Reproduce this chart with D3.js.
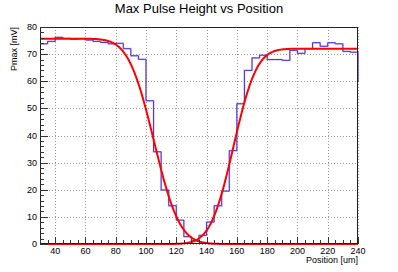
<!DOCTYPE html>
<html><head><meta charset="utf-8">
<script src="https://cdn.jsdelivr.net/npm/d3@7"></script>
<style>
html,body{margin:0;padding:0;background:#fff;}
svg{display:block;font-family:"Liberation Sans",Arial,sans-serif;}
</style></head>
<body>
<svg id="c" width="398" height="272"></svg>
<script>
// ---- data ----
const binLow = [25,30,35,40,45,50,55,60,65,70,75,80,85,90,95,100,105,110,115,120,125,130,135,140,145,150,155,160,165,170,175,180,185,190,195,200,205,210,215,220,225,230,235,240];
const binVal = [68.5,73.8,74.7,76.2,75.8,75.5,75.7,75.2,74.7,74.3,73.8,74.0,72.0,69.4,68.1,52.8,34.0,19.9,14.1,8.8,2.7,1.2,3.2,8.1,14.1,19.5,34.4,51.7,64.0,68.6,69.6,68.0,68.0,67.7,71.4,70.3,72.0,74.2,72.9,74.2,73.8,71.0,70.7,60.0];
const binWidth = 5;
const xTicks = [40,60,80,100,120,140,160,180,200,220,240];
const yTicks = [0,10,20,30,40,50,60,70,80];
// fit parameters (error-function edges)
const fitLeft  = {amp:75.7, mu:105.3, sigma:18.8};
const fitRight = {amp:72.0, mu:157.8, sigma:17.0};
const title = "Max Pulse Height vs Position";
const xTitle = "Position [um]";
const yTitle = "Pmax [mV]";

// ---- layout ----
const L=40, R=358, T=27, B=244;
const svg = d3.select("#c");
const x = d3.scaleLinear().domain([30,240]).range([L,R]);
const y = d3.scaleLinear().domain([0,80]).range([B,T]);

svg.append("defs").append("clipPath").attr("id","clip")
  .append("rect").attr("x",L).attr("y",T).attr("width",R-L).attr("height",B-T+2);
svg.append("defs").append("clipPath").attr("id","clipH")
  .append("rect").attr("x",L).attr("y",T).attr("width",R-L+1).attr("height",B-T);

// grid
const grid = svg.append("g").attr("stroke","#999").attr("stroke-width",1).attr("stroke-dasharray","1,2");
xTicks.forEach(t=>grid.append("line").attr("x1",Math.round(x(t))+0.5).attr("x2",Math.round(x(t))+0.5).attr("y1",T).attr("y2",B));
yTicks.forEach(t=>grid.append("line").attr("x1",L).attr("x2",R).attr("y1",Math.round(y(t))+0.5).attr("y2",Math.round(y(t))+0.5));

// histogram step line
const pts = [];
binLow.forEach((b,i)=>{ pts.push([b,binVal[i]]); pts.push([b+binWidth,binVal[i]]); });
const step = d3.line().x(d=>x(d[0])).y(d=>y(d[1]));
const hg = svg.append("g").attr("clip-path","url(#clipH)");
hg.append("path").attr("d",step(pts)).attr("fill","none").attr("stroke","#a58af0").attr("stroke-width",1.8).attr("opacity",0.5);
hg.append("path").attr("d",step(pts)).attr("fill","none").attr("stroke","#4a2fd6").attr("stroke-width",1);

// fit curves
function erf(z){
  const s = z<0?-1:1; z=Math.abs(z);
  const t=1/(1+0.3275911*z);
  const yv=1-(((((1.061405429*t-1.453152027)*t)+1.421413741)*t-0.284496736)*t+0.254829592)*t*Math.exp(-z*z);
  return s*yv;
}
const xs = d3.range(30,240.01,0.5);
const leftCurve = xs.map(v=>[v, fitLeft.amp/2*(1-erf((v-fitLeft.mu)/fitLeft.sigma))]);
const rightCurve = xs.map(v=>[v, fitRight.amp/2*(1+erf((v-fitRight.mu)/fitRight.sigma))]);
const cl = d3.line().x(d=>x(d[0])).y(d=>y(d[1])).curve(d3.curveLinear);
const cg = svg.append("g").attr("clip-path","url(#clip)");
[leftCurve,rightCurve].forEach(c=>cg.append("path").attr("d",cl(c)).attr("fill","none").attr("stroke","#ff0000").attr("stroke-width",2));

// frame
svg.append("rect").attr("x",L+0.5).attr("y",T+0.5).attr("width",R-L-1).attr("height",B-T-1)
  .attr("fill","none").attr("stroke","#222").attr("stroke-width",1);

// axes ticks (inward)
const ax = svg.append("g").attr("stroke","#333").attr("stroke-width",1);
d3.range(30,240.01,5).forEach(v=>{
  const major = v%20===0;
  ax.append("line").attr("x1",Math.round(x(v))+0.5).attr("x2",Math.round(x(v))+0.5)
    .attr("y1",B).attr("y2",B-(major?7:4));
});
d3.range(0,80.01,2).forEach(v=>{
  const major = v%10===0;
  ax.append("line").attr("y1",Math.round(y(v))+0.5).attr("y2",Math.round(y(v))+0.5)
    .attr("x1",L).attr("x2",L+(major?8:4));
});

// tick labels
const tl = svg.append("g").attr("font-size","9px").attr("fill","#000");
xTicks.forEach(t=>tl.append("text").attr("x",x(t)).attr("y",B+9.5).attr("text-anchor","middle").text(t));
yTicks.forEach(t=>tl.append("text").attr("x",L-3).attr("y",y(t)+3).attr("text-anchor","end").text(t));

// titles
svg.append("text").attr("x",199).attr("y",13).attr("text-anchor","middle").attr("font-size","13px").text(title);
svg.append("text").attr("x",R).attr("y",263).attr("text-anchor","end").attr("font-size","9px").text(xTitle);
svg.append("text").attr("transform",`translate(17,${T}) rotate(-90)`).attr("text-anchor","end").attr("font-size","9px").text(yTitle);
</script>
</body></html>
